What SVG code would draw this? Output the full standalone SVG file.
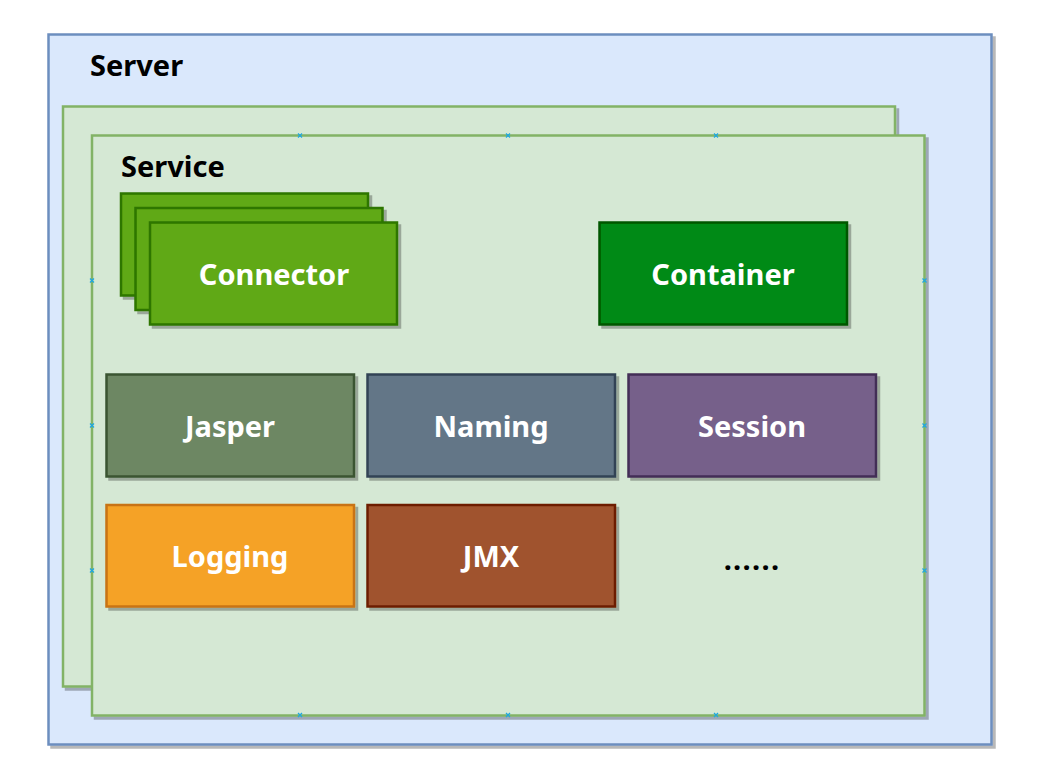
<svg xmlns="http://www.w3.org/2000/svg" width="1048" height="782" viewBox="0 0 1048 782">
<defs>
<filter id="sh" x="-5%" y="-5%" width="115%" height="115%">
<feDropShadow dx="3" dy="3" stdDeviation="0.4" flood-color="#000" flood-opacity="0.28"/>
</filter>
<style>
.lbl{font-family:"Noto Sans","Open Sans","Liberation Sans",sans-serif;font-weight:bold;font-size:29px}
.w{fill:#ffffff;text-anchor:middle}
.k{fill:#000000}
.box{stroke-width:2.5;filter:url(#sh)}
.cp{stroke:#1fa8e0;stroke-width:1.3;fill:none}
</style>
</defs>
<rect width="1048" height="782" fill="#ffffff"/>
<g id="server">
<rect class="box" x="48.5" y="34.5" width="943" height="710" fill="#dae8fc" stroke="#6c8ebf"/>
<text class="lbl k" x="90" y="76">Server</text>
</g>
<g id="service-back">
<rect class="box" x="63" y="106.5" width="832" height="580" fill="#d5e8d4" stroke="#82b366"/>
</g>
<g id="service">
<rect class="box" x="92" y="135.5" width="832.5" height="580" fill="#d5e8d4" stroke="#82b366"/>
<text class="lbl k" x="121" y="177">Service</text>
</g>
<g id="connector">
<rect class="box" x="121" y="193.5" width="247" height="102" fill="#60a917" stroke="#2d7600"/>
<rect class="box" x="135.5" y="208" width="247" height="102" fill="#60a917" stroke="#2d7600"/>
<rect class="box" x="150" y="222.5" width="247" height="102" fill="#60a917" stroke="#2d7600"/>
<text class="lbl w" x="274" y="285">Connector</text>
</g>
<g id="container">
<rect class="box" x="599.5" y="222.5" width="247.5" height="102" fill="#008a17" stroke="#005700"/>
<text class="lbl w" x="723" y="285">Container</text>
</g>
<g id="jasper">
<rect class="box" x="106.5" y="374.5" width="247.5" height="102" fill="#6d8764" stroke="#3a5431"/>
<text class="lbl w" x="230" y="437">Jasper</text>
</g>
<g id="naming">
<rect class="box" x="367.5" y="374.5" width="247.5" height="102" fill="#647687" stroke="#314354"/>
<text class="lbl w" x="491" y="437">Naming</text>
</g>
<g id="session">
<rect class="box" x="628.5" y="374.5" width="247.5" height="102" fill="#76608a" stroke="#432d57"/>
<text class="lbl w" x="752" y="437">Session</text>
</g>
<g id="logging">
<rect class="box" x="106.5" y="505" width="247.5" height="101.5" fill="#f5a226" stroke="#c87314"/>
<text class="lbl w" x="230" y="567">Logging</text>
</g>
<g id="jmx">
<rect class="box" x="367.5" y="505" width="247.5" height="101.5" fill="#a0522d" stroke="#6d1f00"/>
<text class="lbl w" x="491" y="567">JMX</text>
</g>
<g id="more">
<text class="lbl k" x="752" y="570" text-anchor="middle" letter-spacing="1.3">......</text>
</g>
<g id="connectors">
<path class="cp" d="M298,133.5l4,4m0,-4l-4,4 M506,133.5l4,4m0,-4l-4,4 M714,133.5l4,4m0,-4l-4,4 M298,713l4,4m0,-4l-4,4 M506,713l4,4m0,-4l-4,4 M714,713l4,4m0,-4l-4,4 M90,278.5l4,4m0,-4l-4,4 M90,423.5l4,4m0,-4l-4,4 M90,568.5l4,4m0,-4l-4,4 M922.5,278.5l4,4m0,-4l-4,4 M922.5,423.5l4,4m0,-4l-4,4 M922.5,568.5l4,4m0,-4l-4,4"/>
</g>
</svg>
